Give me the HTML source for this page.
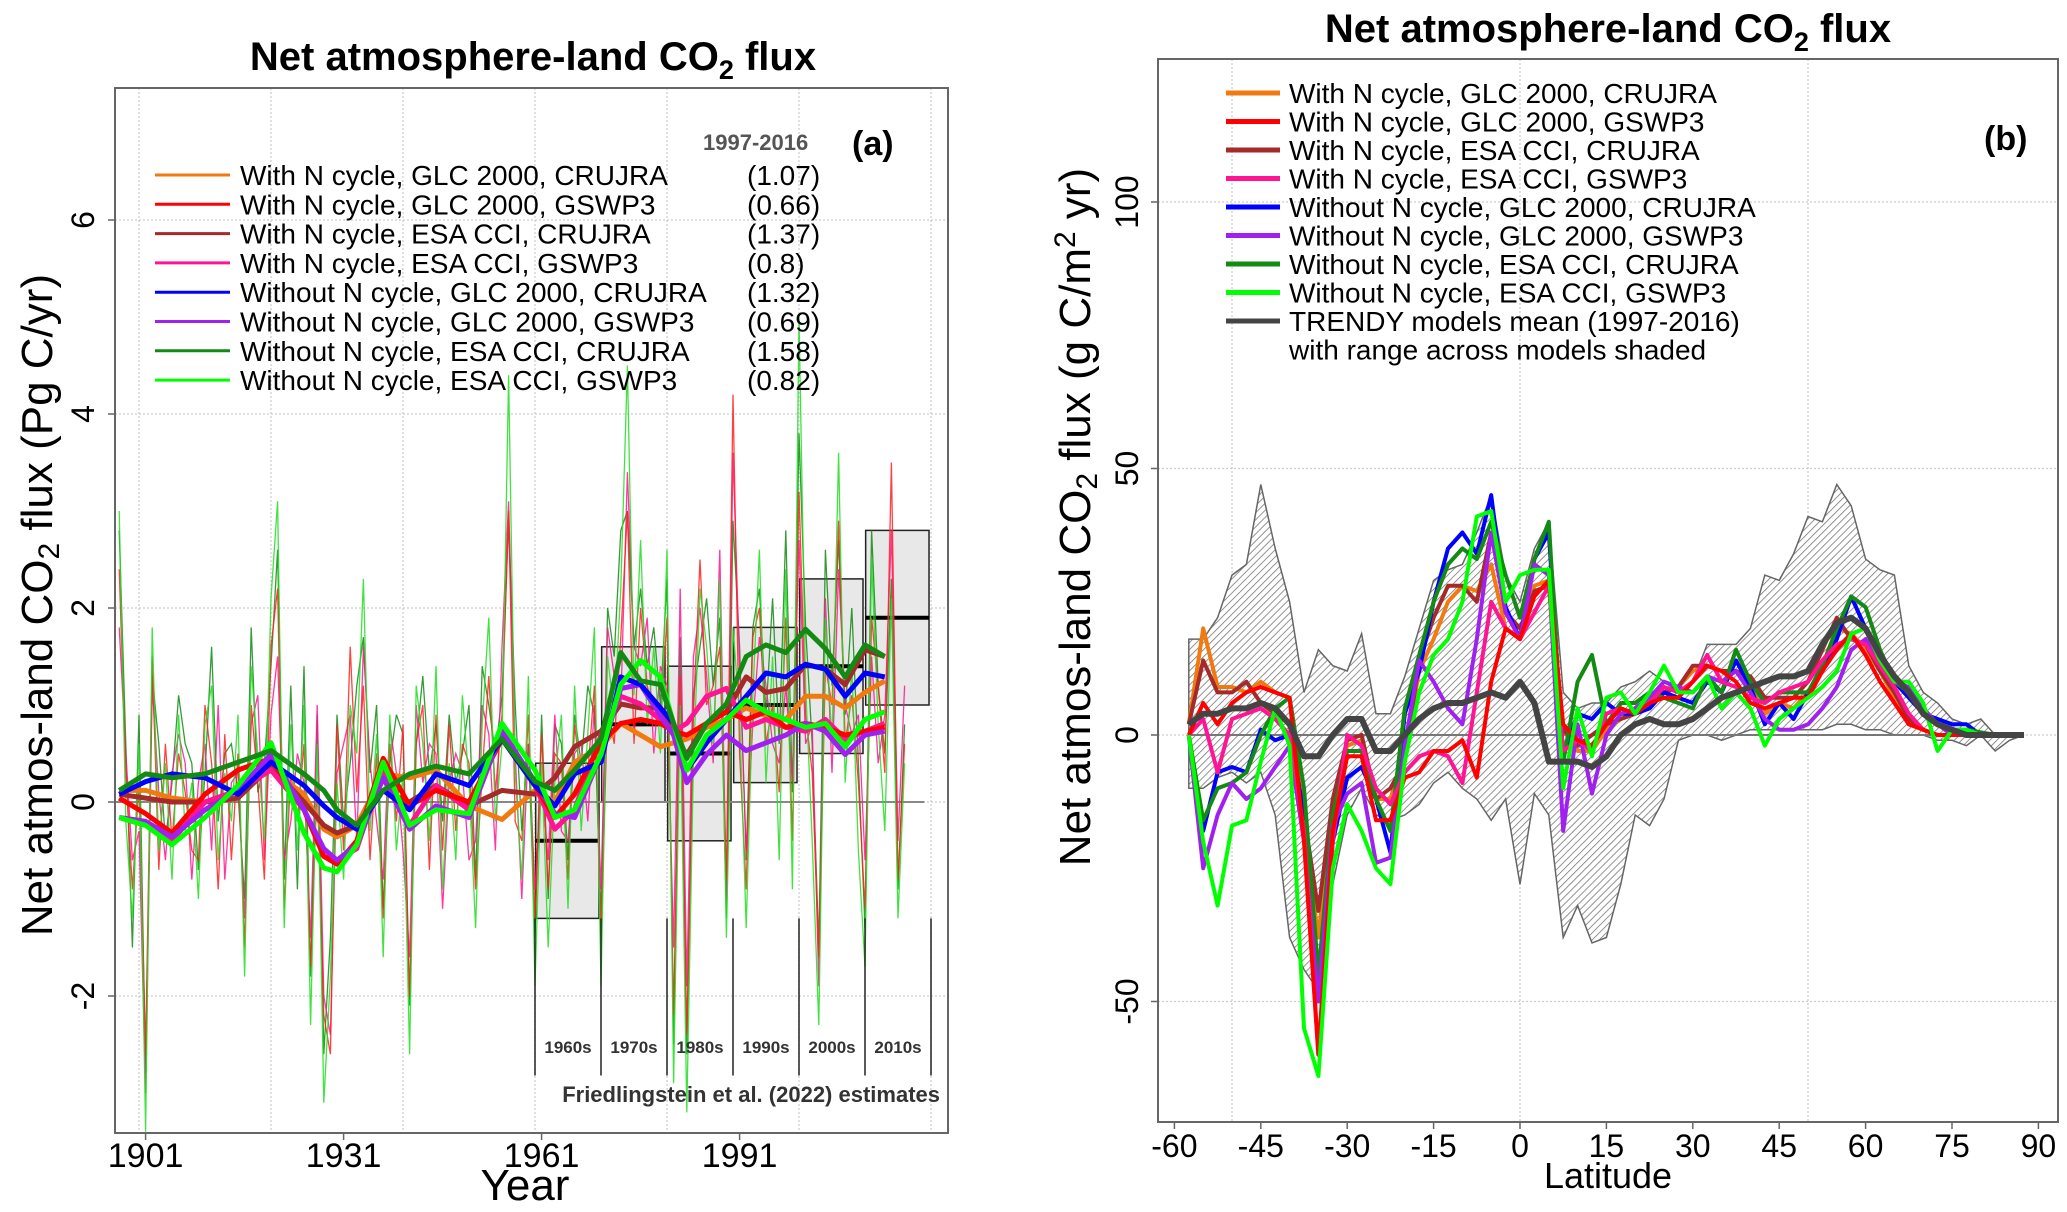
<!DOCTYPE html>
<html><head><meta charset="utf-8"><style>
html,body{margin:0;padding:0;background:#fff}
svg{display:block}
text{font-family:"Liberation Sans","DejaVu Sans",sans-serif}
</style></head><body>
<svg id="fig" width="2067" height="1212" viewBox="0 0 2067 1212" xmlns="http://www.w3.org/2000/svg">
<defs>
<pattern id="hatch" patternUnits="userSpaceOnUse" width="5" height="5" patternTransform="rotate(45)">
<rect width="5" height="5" fill="#fff"/><line x1="0" y1="0" x2="0" y2="5" stroke="#777" stroke-width="1.6"/></pattern>
<clipPath id="clipA"><rect x="115" y="88" width="833" height="1045"/></clipPath>
<clipPath id="clipB"><rect x="1158" y="59" width="900" height="1063"/></clipPath>
</defs>
<g id="panelA"></g>
<g id="panelB"></g>
</svg>
<script>
// ---------- Panel (a) data ----------
const seriesNames = ["With N cycle, GLC 2000, CRUJRA","With N cycle, GLC 2000, GSWP3","With N cycle, ESA CCI, CRUJRA","With N cycle, ESA CCI, GSWP3","Without N cycle, GLC 2000, CRUJRA","Without N cycle, GLC 2000, GSWP3","Without N cycle, ESA CCI, CRUJRA","Without N cycle, ESA CCI, GSWP3"];
const seriesColors = ["#f07a10","#ff0000","#a52a2a","#ff1493","#0000ff","#a020f0","#138a13","#00ff00"];
const meanLabels = ["(1.07)","(0.66)","(1.37)","(0.8)","(1.32)","(0.69)","(1.58)","(0.82)"];
const smoothYears = [1897,1901,1905,1910,1915,1920,1925,1928,1930,1933,1937,1941,1945,1950,1955,1960,1963,1966,1970,1973,1976,1979,1981,1983,1986,1989,1992,1995,1998,2001,2004,2007,2010,2013];
const smOrange = [0.12,0.12,0.04,0.0,0.12,0.33,0.08,-0.28,-0.36,-0.24,0.29,0.25,0.33,-0.04,-0.18,0.12,0.0,0.41,0.57,0.81,0.69,0.57,0.61,0.65,0.77,0.85,0.97,0.89,0.85,1.09,1.09,0.97,1.13,1.25];
const smRed = [0.04,-0.12,-0.32,0.08,0.33,0.45,-0.08,-0.56,-0.64,-0.4,0.45,-0.04,0.12,0.0,0.65,0.17,-0.16,0.08,0.61,0.81,0.85,0.81,0.73,0.69,0.81,0.93,0.85,0.93,0.77,0.81,0.77,0.69,0.73,0.77];
const smBrown = [0.08,0.04,0.0,0.0,0.04,0.37,0.0,-0.24,-0.32,-0.24,0.12,0.0,0.17,-0.04,0.12,0.08,0.25,0.57,0.73,1.01,0.97,0.97,0.69,0.49,0.81,0.93,1.29,1.13,1.17,1.42,1.37,1.21,1.57,1.5];
const smPink = [-0.16,-0.24,-0.4,0.0,0.12,0.33,-0.08,-0.56,-0.6,-0.48,0.33,-0.24,0.17,-0.08,0.69,0.17,-0.28,-0.08,0.69,1.09,1.01,0.85,0.73,0.81,1.09,1.17,0.77,0.85,0.77,0.73,0.85,0.65,0.73,0.81];
const smBlue = [0.08,0.21,0.29,0.25,0.08,0.41,0.17,-0.04,-0.16,-0.28,0.12,-0.08,0.29,0.17,0.65,0.17,-0.04,0.29,0.41,1.29,1.21,0.97,0.81,0.33,0.61,0.85,1.09,1.33,1.29,1.42,1.37,1.09,1.33,1.29];
const smPurple = [-0.16,-0.2,-0.36,-0.08,0.12,0.49,-0.08,-0.48,-0.6,-0.44,0.25,-0.28,-0.04,-0.16,0.73,0.21,-0.12,-0.16,0.49,1.17,1.21,0.89,0.69,0.2,0.49,0.69,0.53,0.61,0.69,0.81,0.73,0.49,0.69,0.73];
const smDarkGreen = [0.12,0.29,0.25,0.29,0.41,0.53,0.29,0.12,-0.08,-0.24,0.12,0.29,0.37,0.29,0.65,0.21,0.12,0.33,0.65,1.54,1.25,1.21,0.81,0.45,0.81,1.01,1.5,1.62,1.54,1.78,1.58,1.29,1.62,1.5];
const smLime = [-0.16,-0.24,-0.44,-0.16,0.17,0.61,-0.32,-0.68,-0.72,-0.44,0.41,-0.24,-0.08,-0.12,0.81,0.33,-0.16,-0.08,0.49,1.21,1.46,1.29,0.81,0.33,0.69,0.85,1.05,0.93,0.85,0.77,0.81,0.57,0.85,0.93];
const annualStart = 1897;
const annualLime = [3.0,-0.2,-1.2,0.6,-3.4,1.8,-0.5,0.4,-0.8,0.9,
-0.3,0.2,-1.0,0.8,1.2,-0.6,0.3,-0.2,0.9,-1.8,
1.4,0.5,-0.4,2.1,3.1,-1.3,0.8,-0.5,1.0,-2.3,
0.6,-3.1,-1.8,0.2,-0.8,1.0,0.5,2.3,-0.3,0.7,
-1.6,0.9,-0.5,0.3,-2.6,1.2,0.6,-0.4,1.4,-0.9,
0.4,-0.6,1.1,0.2,-1.3,0.8,1.9,-0.2,0.6,4.4,
0.3,-0.8,1.3,-1.9,0.4,-1.5,0.2,0.9,-1.1,1.2,
-0.3,0.7,1.8,-1.9,1.5,0.9,2.2,4.5,1.1,2.7,
0.8,1.6,0.5,2.6,-2.9,1.0,-3.2,0.4,2.2,1.6,
0.6,2.3,-1.4,1.8,0.9,-1.3,1.1,2.6,0.2,1.5,
-0.6,2.4,-0.9,5.0,1.2,-0.4,-2.3,1.9,0.6,3.6,
0.2,1.4,-0.5,-1.7,2.5,0.8,-0.3,2.1,-1.2,0.4];
const annualRed = [2.4,0.3,-0.9,0.2,-2.6,1.5,-0.7,0.6,-0.4,0.5,
0.1,-0.5,-0.6,1.0,0.4,-0.9,0.7,-0.6,0.5,-1.5,
1.0,0.2,-0.8,1.6,2.2,-1.1,0.3,-0.2,0.6,-1.7,
0.2,-2.2,-2.6,0.8,-0.5,1.6,0.1,1.2,-0.6,0.5,
-1.2,0.6,-0.2,0.8,-2.0,0.6,1.0,-0.7,0.9,-0.5,
0.8,-0.3,0.6,0.4,-0.9,0.3,1.3,0.1,0.9,3.0,
-0.2,-0.4,0.9,-1.2,0.7,-0.9,0.5,0.4,-0.8,0.8,
0.2,0.3,1.2,-1.4,1.0,0.6,1.7,3.0,0.6,2.0,
1.2,0.9,0.8,1.9,-2.2,1.3,-2.4,0.9,2.5,1.0,
1.2,1.6,-0.8,4.2,0.5,-0.9,1.7,2.0,0.6,1.0,
0.1,1.9,-0.4,3.2,0.9,0.3,-1.6,1.4,1.0,2.9,
0.6,1.1,0.2,-1.1,1.9,1.2,0.3,3.5,-0.8,0.6];
const annualPink = [1.8,0.5,-0.6,-0.3,-3.0,1.2,0.1,-0.6,0.3,0.7,
0.4,-0.8,0.2,0.6,-0.5,1.0,-0.8,0.2,0.3,-1.2,
0.8,1.1,-0.6,0.9,1.5,-0.6,-0.2,0.5,0.2,-1.4,
1.0,-2.0,-2.4,0.3,0.6,0.9,-0.4,1.6,0.4,-0.2,
-0.8,0.8,0.3,-0.5,-1.6,1.0,0.2,0.6,0.5,-1.1,
0.2,0.5,0.3,-0.6,-0.4,1.0,0.7,-0.5,1.6,3.1,
0.5,-1.0,0.6,-0.9,0.2,-0.6,0.9,-0.3,-0.4,0.5,
0.6,-0.2,1.0,-0.9,1.8,1.3,1.0,3.4,1.6,1.4,
1.9,0.5,1.4,1.2,-1.5,2.2,-1.9,1.5,2.0,1.3,
0.4,2.6,-1.0,3.6,1.4,-0.5,0.8,1.7,1.2,0.6,
0.4,1.2,0.2,2.7,0.6,0.8,-1.9,2.1,0.3,2.4,
1.0,0.7,0.9,-0.6,1.5,0.4,0.9,2.8,-0.4,1.2];
const annualDarkGreen = [2.8,0.6,-1.5,0.9,-2.8,1.3,0.6,-0.4,0.2,1.1,
0.6,0.4,-0.7,0.3,1.6,-0.2,0.5,0.6,0.1,-1.0,
1.8,0.1,0.4,1.4,2.6,-0.8,1.2,-0.9,1.4,-1.8,
0.9,-2.6,-1.4,0.9,-0.2,0.4,1.2,1.7,0.3,1.0,
-1.1,0.4,0.9,0.7,-2.1,0.6,1.3,0.3,0.8,-0.2,
0.9,0.2,0.5,1.0,-0.8,1.4,1.0,0.5,1.1,2.9,
1.0,-0.3,0.6,-1.4,0.9,-1.0,0.8,0.6,-0.6,0.9,
0.4,1.2,0.9,-1.2,2.0,1.5,2.8,3.0,1.6,2.2,
1.4,1.8,1.0,2.3,-2.5,1.7,-2.6,1.1,1.6,2.1,
1.2,1.9,-1.2,2.9,1.6,-0.6,1.8,2.2,0.9,2.1,
0.6,2.8,0.1,3.8,1.8,0.6,-1.5,2.6,1.2,2.7,
0.9,2.0,0.4,-1.3,2.8,1.2,0.5,2.3,-0.9,0.8];
const decadeStarts = [1960,1970,1980,1990,2000,2010];
const decadeLabels = ["1960s","1970s","1980s","1990s","2000s","2010s"];
const decadeTop = [0.4,1.6,1.4,1.8,2.3,2.8];
const decadeBottom = [-1.2,0.0,-0.4,0.2,0.5,1.0];
const decadeMean = [-0.4,0.8,0.5,1.0,1.4,1.9];
const aYTicks = [-2,0,2,4,6];
const aXTicks = [1901,1931,1961,1991];
const aXGrid = [1900,1920,1940,1960,1980,2000,2020];

// ---------- Panel (b) data ----------
const lats = [-57.5,-55,-52.5,-50,-47.5,-45,-42.5,-40,-37.5,-35,-32.5,-30,-27.5,-25,-22.5,-20,-17.5,-15,-12.5,-10,-7.5,-5,-2.5,0,2.5,5,7.5,10,12.5,15,17.5,20,22.5,25,27.5,30,32.5,35,37.5,40,42.5,45,47.5,50,52.5,55,57.5,60,62.5,65,67.5,70,72.5,75,77.5,80,82.5,85,87.5];
const bOrange = [2,20,9,9,8,10,8,7,-18,-38,-12,-2,-1,-12,-12,-3,12,18,25,28,27,32,20,18,28,29,1,-3,-3,1,3,4,6,8,9,12,13,12,12,9,4,6,5,8,13,20,19,16,12,7,2,1,0,0,0,0,0,0,0];
const bRed = [0,6,2,6,8,9,8,7,-20,-60,-18,-4,-4,-16,-16,-8,-7,-3,-3,-1,-8,10,20,18,26,29,2,-1,-2,2,5,4,6,7,7,10,13,12,10,6,5,6,7,7,12,16,19,15,10,6,2,1,0,0,0,0,0,0,0];
const bBrown = [2,14,8,8,10,6,4,2,-15,-33,-12,-1,0,-12,-10,-5,14,22,28,28,25,38,23,20,27,28,1,-2,0,2,3,4,6,8,9,13,13,12,12,11,7,7,7,10,16,22,18,17,12,8,3,1,0,0,0,0,0,0,0];
const bPink = [0,3,-7,3,4,5,3,0,-18,-60,-20,0,-2,-10,-13,-7,-4,-3,-4,-9,8,25,20,18,23,28,-3,-1,-3,4,5,4,6,9,8,10,15,10,9,7,6,8,9,10,14,17,18,17,13,9,4,1,0,0,0,0,0,0,0];
const bBlue = [0,-18,-7,-6,-7,1,-1,0,-15,-50,-20,-8,-6,-12,-22,4,12,25,35,38,34,45,24,18,33,38,-4,4,3,6,4,4,5,8,7,6,10,8,14,9,2,6,3,8,12,18,26,20,15,10,7,4,3,2,2,0,0,0,0];
const bPurple = [0,-25,-15,-9,-12,-10,-6,-2,-20,-50,-17,-11,-9,-24,-23,-2,14,10,5,2,18,38,23,18,32,30,-18,2,-11,0,4,5,7,10,9,8,11,10,12,8,3,1,1,2,5,9,16,18,14,10,9,5,2,0,0,0,0,0,0];
const bDarkGreen = [0,-16,-10,-9,-7,0,5,7,-10,-45,-15,-3,-3,-12,-18,5,15,25,32,35,33,40,30,22,33,40,-5,10,15,2,6,6,8,7,6,5,11,8,16,10,6,8,8,8,13,20,26,24,16,10,8,5,2,1,1,0.5,0,0,0];
const bLime = [0,-20,-32,-17,-16,-5,5,-2,-55,-64,-25,-13,-18,-25,-28,-5,8,15,18,25,41,42,25,30,31,31,-10,5,-4,7,8,4,8,13,8,8,11,5,8,5,-2,3,5,7,9,12,19,20,14,10,10,6,-3,1,1,0,0,0,0];
const bMean = [2,4,4,5,5,6,5,2,-4,-4,0,3,3,-3,-3,0,3,5,6,6,7,8,7,10,6,-5,-5,-5,-6,-4,0,2,3,2,2,3,5,7,8,9,10,11,11,12,17,21,22,20,15,11,8,4,2,1,0,0,0,0,0];
const bUpper = [18,18,22,30,32,47,35,25,8,16,13,12,19,4,4,11,20,29,31,32,38,45,30,25,35,40,8,5,6,6,9,10,12,10,8,10,17,17,17,20,30,29,34,41,40,47,43,33,31,30,13,8,6,3,2,3,0,0,0];
const bLower = [-10,-10,-8,-7,-9,-7,-15,-38,-44,-48,-28,-15,-10,-15,-16,-15,-13,-9,-7,-10,-12,-16,-12,-28,-11,-15,-38,-32,-39,-38,-28,-15,-17,-12,-1,0,0,-1,0,1,1,1,1,1,1,2,2,1,1,0,0,0,-1,-1,-2,0,-3,-1,0];
const bXTicks = [-60,-45,-30,-15,0,15,30,45,60,75,90];
const bYTicks = [-50,0,50,100];
const bGridX = [-50,0,50];
const legendB = ["With N cycle, GLC 2000, CRUJRA","With N cycle, GLC 2000, GSWP3","With N cycle, ESA CCI, CRUJRA","With N cycle, ESA CCI, GSWP3","Without N cycle, GLC 2000, CRUJRA","Without N cycle, GLC 2000, GSWP3","Without N cycle, ESA CCI, CRUJRA","Without N cycle, ESA CCI, GSWP3","TRENDY models mean (1997-2016)"];

const NS = "http://www.w3.org/2000/svg";
function mk(parent, tag, attrs, txt){
  const e = document.createElementNS(NS, tag);
  for (const k in attrs) e.setAttribute(k, attrs[k]);
  if (txt !== undefined) e.textContent = txt;
  parent.appendChild(e);
  return e;
}
const xa = yr => 139 + (yr - 1900) * 6.6;
const ya = v => 802 - v * 97;
const xb = lat => 1520 + lat * 5.76;
const yb = v => 735 - v * 5.33;

// ===== Panel A =====
const A = document.getElementById('panelA');
let t = mk(A,'text',{x:533,y:70,'text-anchor':'middle','font-size':40,'font-weight':'bold'});


t.innerHTML = 'Net atmosphere-land CO<tspan font-size="27" dy="9">2</tspan><tspan dy="-9"> flux</tspan>';
const gridA = mk(A,'g',{});


aXGrid.forEach(g=>{ mk(gridA,'line',{x1:xa(g),x2:xa(g),y1:88,y2:1133,stroke:'#ccc','stroke-width':1.2,'stroke-dasharray':'2,2'}); });
aYTicks.forEach(g=>{ mk(gridA,'line',{x1:115,x2:948,y1:ya(g),y2:ya(g),stroke:'#ccc','stroke-width':1.2,'stroke-dasharray':'2,2'}); });
const plotA = mk(A,'g',{'clip-path':'url(#clipA)'});


decadeStarts.forEach((d,i)=>{
  const r = mk(plotA,'rect',{x:xa(d+0.1),y:ya(decadeTop[i]),width:xa(d+9.7)-xa(d+0.1),height:ya(decadeBottom[i])-ya(decadeTop[i]),fill:'#e8e8e8',stroke:'#222','stroke-width':1.5});
  
  
  const m = mk(plotA,'line',{x1:xa(d+0.1),x2:xa(d+9.7),y1:ya(decadeMean[i]),y2:ya(decadeMean[i]),stroke:'#000','stroke-width':4});
  
  
});
mk(plotA,'line',{x1:115,x2:xa(2019),y1:ya(0),y2:ya(0),stroke:'#888','stroke-width':2});
function pathFrom(xs, ys, fx, fy){ return xs.map((x,i)=>(i?'L':'M')+fx(x).toFixed(1)+','+fy(ys[i]).toFixed(1)).join(''); }
const annYears = annualLime.map((_,i)=>annualStart+i);
const thinSets = [[annualDarkGreen,'#138a13','annual-line-esa-crujra-no-n'],[annualPink,'#ff1493','annual-line-esa-gswp3'],[annualRed,'#ff2020','annual-line-glc-gswp3'],[annualLime,'#22dd22','annual-line-esa-gswp3-no-n']];
thinSets.forEach(s=>{
  const p = mk(plotA,'path',{d:pathFrom(annYears,s[0],xa,ya),fill:'none',stroke:s[1],'stroke-width':1.3,opacity:0.85});
  
  
});
const smSets = [smOrange,smRed,smBrown,smPink,smBlue,smPurple,smDarkGreen,smLime];
const drawOrderA = [0,2,3,1,5,4,7,6];
drawOrderA.forEach(i=>{
  const p = mk(plotA,'path',{d:pathFrom(smoothYears,smSets[i],xa,ya),fill:'none',stroke:seriesColors[i],'stroke-width':5,'stroke-linejoin':'round'});
  
  
});
decadeStarts.concat([2020]).forEach(d=>{ mk(A,'line',{x1:xa(d),x2:xa(d),y1:ya(-1.2),y2:ya(-2.82),stroke:'#222','stroke-width':1.5}); });
decadeStarts.forEach((d,i)=>{
  const l = mk(A,'text',{x:xa(d+5),y:1053,'text-anchor':'middle','font-size':17,'font-weight':'bold',fill:'#333'},decadeLabels[i]);
  
  
});
t = mk(A,'text',{x:940,y:1102,'text-anchor':'end','font-size':22,'font-weight':'bold',fill:'#333'},'Friedlingstein et al. (2022) estimates');


mk(A,'rect',{x:115,y:88,width:833,height:1045,fill:'none',stroke:'#666','stroke-width':2});
const legA = mk(A,'g',{});


t = mk(legA,'text',{x:703,y:150,'font-size':22,'font-weight':'bold',fill:'#555'},'1997-2016');


t = mk(legA,'text',{x:852,y:155,'font-size':34,'font-weight':'bold'},'(a)');


seriesNames.forEach((n,i)=>{
  const y = 175 + i*29.3;
  const e = mk(legA,'g',{});
  
  
  mk(e,'line',{x1:155,x2:230,y1:y,y2:y,stroke:seriesColors[i],'stroke-width':3});
  mk(e,'text',{x:240,y:y+10,'font-size':28},n);
  mk(e,'text',{x:747,y:y+10,'font-size':28},meanLabels[i]);
});
aYTicks.forEach(v=>{
  mk(A,'line',{x1:108,x2:115,y1:ya(v),y2:ya(v),stroke:'#666','stroke-width':1.5});
  const l = mk(A,'text',{x:0,y:0,'text-anchor':'middle','font-size':32,transform:`translate(94,${ya(v)}) rotate(-90)`},String(v));
  
  
});
aXTicks.forEach(v=>{
  mk(A,'line',{x1:xa(v),x2:xa(v),y1:1133,y2:1140,stroke:'#666','stroke-width':1.5});
  const l = mk(A,'text',{x:xa(v),y:1167,'text-anchor':'middle','font-size':34},String(v));
  
  
});
t = mk(A,'text',{x:525,y:1200,'text-anchor':'middle','font-size':44},'Year');


t = mk(A,'text',{x:0,y:0,'text-anchor':'middle','font-size':44,transform:'translate(52,605) rotate(-90)'});


t.innerHTML = 'Net atmos-land CO<tspan font-size="30" dy="7">2</tspan><tspan dy="-7"> flux  (Pg C/yr)</tspan>';

// ===== Panel B =====
const B = document.getElementById('panelB');
t = mk(B,'text',{x:1608,y:42,'text-anchor':'middle','font-size':40,'font-weight':'bold'});


t.innerHTML = 'Net atmosphere-land CO<tspan font-size="27" dy="9">2</tspan><tspan dy="-9"> flux</tspan>';
const gridB = mk(B,'g',{});


bGridX.forEach(g=>{ mk(gridB,'line',{x1:xb(g),x2:xb(g),y1:59,y2:1122,stroke:'#ccc','stroke-width':1.2,'stroke-dasharray':'2,2'}); });
bYTicks.forEach(g=>{ mk(gridB,'line',{x1:1158,x2:2058,y1:yb(g),y2:yb(g),stroke:'#ccc','stroke-width':1.2,'stroke-dasharray':'2,2'}); });
const plotB = mk(B,'g',{'clip-path':'url(#clipB)'});


const upPts = lats.map((l,i)=>xb(l).toFixed(1)+','+yb(bUpper[i]).toFixed(1));
const loPts = lats.map((l,i)=>xb(l).toFixed(1)+','+yb(bLower[i]).toFixed(1)).reverse();
const band = mk(plotB,'polygon',{points:upPts.concat(loPts).join(' '),fill:'url(#hatch)',stroke:'#666','stroke-width':1.5});


mk(plotB,'line',{x1:xb(-57.5),x2:xb(87.5),y1:yb(0),y2:yb(0),stroke:'#777','stroke-width':2});
const bSets = [bOrange,bRed,bBrown,bPink,bBlue,bPurple,bDarkGreen,bLime];
[0,2,4,6,5,3,1,7].forEach(i=>{
  const p = mk(plotB,'path',{d:pathFrom(lats,bSets[i],xb,yb),fill:'none',stroke:seriesColors[i],'stroke-width':4,'stroke-linejoin':'round'});
  
  
});
t = mk(plotB,'path',{d:pathFrom(lats,bMean,xb,yb),fill:'none',stroke:'#444','stroke-width':6,'stroke-linejoin':'round'});


mk(B,'rect',{x:1158,y:59,width:900,height:1063,fill:'none',stroke:'#666','stroke-width':2});
const legB = mk(B,'g',{});


const legBColors = seriesColors.concat(['#444']);
legendB.forEach((n,i)=>{
  const y = 93 + i*28.5;
  const e = mk(legB,'g',{});
  
  
  mk(e,'line',{x1:1226,x2:1280,y1:y,y2:y,stroke:legBColors[i],'stroke-width':5});
  mk(e,'text',{x:1289,y:y+10,'font-size':28},n);
});
t = mk(legB,'text',{x:1289,y:93+9*28.5+10,'font-size':28},'with range across models shaded');


t = mk(B,'text',{x:1984,y:150,'font-size':34,'font-weight':'bold'},'(b)');


bYTicks.forEach(v=>{
  mk(B,'line',{x1:1151,x2:1158,y1:yb(v),y2:yb(v),stroke:'#666','stroke-width':1.5});
  const l = mk(B,'text',{x:0,y:0,'text-anchor':'middle','font-size':32,transform:`translate(1138,${yb(v)}) rotate(-90)`},String(v));
  
  
});
bXTicks.forEach(v=>{
  mk(B,'line',{x1:xb(v),x2:xb(v),y1:1122,y2:1129,stroke:'#666','stroke-width':1.5});
  const l = mk(B,'text',{x:xb(v),y:1157,'text-anchor':'middle','font-size':32},String(v));
  
  
});
t = mk(B,'text',{x:1608,y:1188,'text-anchor':'middle','font-size':36},'Latitude');


t = mk(B,'text',{x:0,y:0,'text-anchor':'middle','font-size':44,transform:'translate(1090,517) rotate(-90)'});


t.innerHTML = 'Net atmos-land CO<tspan font-size="30" dy="7">2</tspan><tspan dy="-7"> flux  (g C/m</tspan><tspan font-size="30" dy="-15">2</tspan><tspan dy="15"> yr)</tspan>';
</script>
</body></html>
